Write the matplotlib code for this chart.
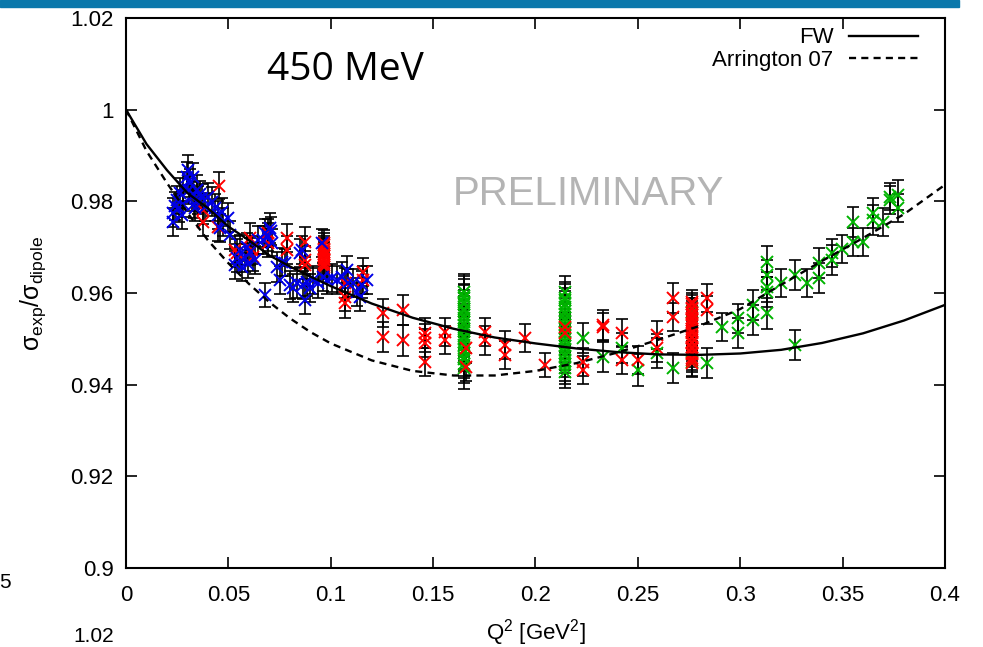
import matplotlib
matplotlib.use("Agg")
import matplotlib.pyplot as plt
from matplotlib.patches import Rectangle

plt.rcParams["font.family"] = ["Liberation Sans", "DejaVu Sans"]
plt.rcParams["mathtext.fontset"] = "custom"
plt.rcParams["mathtext.rm"] = "Liberation Sans"
plt.rcParams["mathtext.it"] = "Liberation Sans"
plt.rcParams["mathtext.default"] = "regular"

# --- model curves ---
curve_q2 = [0.0, 0.01, 0.02, 0.03, 0.04, 0.05, 0.06, 0.07, 0.08, 0.09, 0.10,
            0.12, 0.14, 0.16, 0.18, 0.20, 0.22, 0.24, 0.26, 0.28, 0.30,
            0.32, 0.34, 0.36, 0.38, 0.40]
fw_ratio = [1.0, 0.9925, 0.9868, 0.9818, 0.9785, 0.9745, 0.9715, 0.9682, 0.9658,
            0.9636, 0.9615, 0.9577, 0.9546, 0.9522, 0.9503, 0.9490, 0.9479,
            0.9471, 0.9466, 0.9465, 0.9468, 0.9476, 0.9491, 0.9512, 0.9540, 0.9574]
arr_ratio = [1.0, 0.9910, 0.9840, 0.9775, 0.9715, 0.9665, 0.9620, 0.9580, 0.9545,
             0.9515, 0.9490, 0.9453, 0.9430, 0.9420, 0.9420, 0.9430, 0.9447,
             0.9470, 0.9498, 0.9528, 0.9565, 0.9618, 0.9670, 0.9720, 0.9772, 0.9836]

# --- blue data set ---
blue_q2 = [0.023, 0.023, 0.024, 0.025, 0.0264, 0.026, 0.0273, 0.0278, 0.028, 0.0298,
           0.0303, 0.031, 0.0312, 0.0322, 0.0327, 0.033, 0.0337, 0.0347, 0.0352, 0.036,
           0.0371, 0.0386, 0.040, 0.042, 0.0435, 0.0449, 0.0469, 0.0459, 0.0474, 0.0498,
           0.0508, 0.0532, 0.0542, 0.0557, 0.0567, 0.0581, 0.0591, 0.0596, 0.0606, 0.063,
           0.0645, 0.0679, 0.0679, 0.0694, 0.0703, 0.067, 0.071, 0.0715, 0.0737, 0.0752,
           0.0762, 0.0777, 0.0801, 0.0816, 0.0835, 0.085, 0.086, 0.0864, 0.0874, 0.0884,
           0.0899, 0.0913, 0.0938, 0.0957, 0.0962, 0.0982, 0.1006, 0.103, 0.1055, 0.1079,
           0.1084, 0.1109, 0.1128, 0.1143, 0.1153, 0.1177]
blue_ratio = [0.9775, 0.9755, 0.9790, 0.9803, 0.9818, 0.9785, 0.9770, 0.9831, 0.9795, 0.9853,
              0.9868, 0.9825, 0.9840, 0.9810, 0.9853, 0.9795, 0.9786, 0.9825, 0.9803, 0.9815,
              0.9807, 0.9788, 0.9810, 0.9799, 0.9786, 0.9770, 0.9777, 0.9742, 0.9755, 0.9764,
              0.9727, 0.9661, 0.9676, 0.9694, 0.9657, 0.9676, 0.9700, 0.9663, 0.9690, 0.9672,
              0.9716, 0.9596, 0.9731, 0.9722, 0.9742, 0.9716, 0.9735, 0.9710, 0.9657, 0.9628,
              0.9668, 0.9666, 0.9618, 0.9611, 0.9622, 0.9687, 0.9694, 0.9618, 0.9585, 0.9624,
              0.9611, 0.9628, 0.9622, 0.9709, 0.9635, 0.9628, 0.9633, 0.9628, 0.9635, 0.9650,
              0.9622, 0.9622, 0.9602, 0.9591, 0.9618, 0.9628]
blue_err = [0.0032, 0.0030, 0.0031, 0.0030, 0.0032, 0.0030, 0.0031, 0.0033, 0.0030, 0.0032,
            0.0033, 0.0030, 0.0031, 0.0032, 0.0030, 0.0031, 0.0030, 0.0032, 0.0031, 0.0030,
            0.0031, 0.0030, 0.0031, 0.0032, 0.0030, 0.0031, 0.0030, 0.0031, 0.0030, 0.0032,
            0.0030, 0.0031, 0.0030, 0.0032, 0.0030, 0.0031, 0.0030, 0.0031, 0.0030, 0.0031,
            0.0030, 0.0026, 0.0031, 0.0030, 0.0032, 0.0030, 0.0031, 0.0030, 0.0032, 0.0030,
            0.0031, 0.0030, 0.0031, 0.0030, 0.0032, 0.0031, 0.0030, 0.0031, 0.0030, 0.0031,
            0.0030, 0.0031, 0.0032, 0.0030, 0.0031, 0.0030, 0.0031, 0.0030, 0.0032, 0.0031,
            0.0030, 0.0031, 0.0030, 0.0031, 0.0030, 0.0031]

# --- red data set ---
red_q2 = [0.0376, 0.0376, 0.0449, 0.0454, 0.0532, 0.0542, 0.0606, 0.0615, 0.062, 0.0694,
          0.0694, 0.0786, 0.0786, 0.0874, 0.0874, 0.0874,
          0.0967, 0.0967, 0.0967, 0.0967, 0.0967, 0.0967, 0.0967, 0.0967, 0.0967, 0.0967,
          0.0967, 0.0967,
          0.107, 0.107, 0.107, 0.1158, 0.1158, 0.1255, 0.1255, 0.1353, 0.1353, 0.146,
          0.146, 0.146, 0.146, 0.1558, 0.1558, 0.166, 0.166, 0.1753, 0.1753, 0.1851,
          0.1851, 0.1949, 0.2046, 0.2144, 0.2144, 0.2232, 0.2232, 0.233, 0.233, 0.2422,
          0.2422, 0.25, 0.2593, 0.2593, 0.2671, 0.2671,
          0.2764, 0.2764, 0.2764, 0.2764, 0.2764, 0.2764, 0.2764, 0.2764, 0.2764, 0.2764,
          0.2764, 0.2764, 0.2764, 0.2764, 0.2764, 0.2764, 0.2764, 0.2764, 0.2764, 0.2764,
          0.2764, 0.2764, 0.2764, 0.2764,
          0.2838, 0.2838]
red_ratio = [0.9781, 0.9755, 0.9744, 0.9834, 0.9694, 0.9687, 0.9720, 0.9694, 0.9679, 0.9731,
             0.9709, 0.9720, 0.9694, 0.9711, 0.9672, 0.9661,
             0.9709, 0.9704, 0.9697, 0.9693, 0.9690, 0.9684, 0.9680, 0.9674, 0.9671, 0.9666,
             0.9662, 0.9657,
             0.9622, 0.9591, 0.9578, 0.9646, 0.9628, 0.9556, 0.9504, 0.9563, 0.9497, 0.9513,
             0.9502, 0.9491, 0.9449, 0.9515, 0.9497, 0.9480, 0.9439, 0.9515, 0.9497, 0.9487,
             0.9465, 0.9502, 0.9443, 0.9526, 0.9513, 0.9449, 0.9432, 0.9530, 0.9526, 0.9513,
             0.9454, 0.9454, 0.9508, 0.9480, 0.9589, 0.9548,
             0.9580, 0.9575, 0.9568, 0.9564, 0.9556, 0.9553, 0.9545, 0.9541, 0.9534, 0.9530,
             0.9522, 0.9517, 0.9513, 0.9505, 0.9501, 0.9493, 0.9490, 0.9482, 0.9478, 0.9470,
             0.9466, 0.9458, 0.9454, 0.9447,
             0.9589, 0.9563]
red_err = [0.0030, 0.0031, 0.0030, 0.0030, 0.0031, 0.0030, 0.0032, 0.0030, 0.0031, 0.0030,
           0.0031, 0.0030, 0.0031, 0.0032, 0.0030, 0.0031,
           0.0028, 0.0027, 0.0028, 0.0027, 0.0028, 0.0027, 0.0028, 0.0027, 0.0028, 0.0027,
           0.0028, 0.0027,
           0.0032, 0.0031, 0.0033, 0.0031, 0.0030, 0.0030, 0.0032, 0.0033, 0.0034, 0.0032,
           0.0031, 0.0030, 0.0031, 0.0030, 0.0031, 0.0032, 0.0030, 0.0031, 0.0032, 0.0030,
           0.0031, 0.0030, 0.0026, 0.0030, 0.0031, 0.0031, 0.0030, 0.0032, 0.0031, 0.0030,
           0.0031, 0.0030, 0.0031, 0.0030, 0.0032, 0.0031,
           0.0027, 0.0026, 0.0027, 0.0026, 0.0027, 0.0026, 0.0027, 0.0026, 0.0027, 0.0026,
           0.0027, 0.0026, 0.0027, 0.0026, 0.0027, 0.0026, 0.0027, 0.0026, 0.0027, 0.0026,
           0.0027, 0.0026, 0.0027, 0.0029,
           0.0030, 0.0031]

# --- green data set ---
green_q2 = [0.165, 0.165, 0.165, 0.165, 0.165, 0.165, 0.165, 0.165, 0.165, 0.165,
            0.165, 0.165, 0.165, 0.165, 0.165, 0.165, 0.165, 0.165, 0.165, 0.165,
            0.165, 0.165, 0.165,
            0.2144, 0.2144, 0.2144, 0.2144, 0.2144, 0.2144, 0.2144, 0.2144, 0.2144, 0.2144,
            0.2144, 0.2144, 0.2144, 0.2144, 0.2144, 0.2144, 0.2144, 0.2144, 0.2144, 0.2144,
            0.2144, 0.2144, 0.2144,
            0.2232, 0.233, 0.2422, 0.25, 0.2593, 0.2671, 0.2764, 0.2764, 0.2838, 0.2911,
            0.2989, 0.2989, 0.3062, 0.3062, 0.3131, 0.3131, 0.3131, 0.3131, 0.3131, 0.3199,
            0.3267, 0.3267, 0.3326, 0.3385, 0.3385, 0.3448, 0.3448, 0.3497, 0.3551, 0.3551,
            0.3599, 0.3648, 0.3648, 0.3697, 0.3731, 0.3731, 0.377, 0.377]
green_ratio = [0.9602, 0.9594, 0.9589, 0.9580, 0.9575, 0.9566, 0.9560, 0.9551, 0.9546, 0.9537,
               0.9531, 0.9521, 0.9516, 0.9507, 0.9501, 0.9492, 0.9486, 0.9476, 0.9470, 0.9461,
               0.9455, 0.9446, 0.9436,
               0.9602, 0.9590, 0.9584, 0.9575, 0.9569, 0.9560, 0.9554, 0.9545, 0.9539, 0.9530,
               0.9523, 0.9515, 0.9508, 0.9499, 0.9493, 0.9484, 0.9477, 0.9468, 0.9462, 0.9452,
               0.9445, 0.9436, 0.9428,
               0.9502, 0.9460, 0.9480, 0.9432, 0.9469, 0.9436, 0.9449, 0.9558, 0.9447, 0.9526,
               0.9545, 0.9513, 0.9574, 0.9541, 0.9668, 0.9639, 0.9613, 0.9602, 0.9556, 0.9622,
               0.9487, 0.9639, 0.9622, 0.9666, 0.9633, 0.9687, 0.9672, 0.9696, 0.9755, 0.9711,
               0.9711, 0.9775, 0.9759, 0.9755, 0.9810, 0.9803, 0.9814, 0.9786]
green_err = [0.0040, 0.0042, 0.0041, 0.0040, 0.0042, 0.0041, 0.0040, 0.0042, 0.0041, 0.0040,
             0.0042, 0.0041, 0.0040, 0.0042, 0.0041, 0.0040, 0.0042, 0.0041, 0.0040, 0.0042,
             0.0041, 0.0043, 0.0045,
             0.0036, 0.0035, 0.0036, 0.0035, 0.0036, 0.0035, 0.0036, 0.0035, 0.0036, 0.0035,
             0.0036, 0.0035, 0.0036, 0.0035, 0.0036, 0.0035, 0.0036, 0.0035, 0.0036, 0.0035,
             0.0036, 0.0035, 0.0036,
             0.0032, 0.0033, 0.0032, 0.0034, 0.0033, 0.0032, 0.0033, 0.0031, 0.0032, 0.0030,
             0.0032, 0.0033, 0.0032, 0.0033, 0.0034, 0.0033, 0.0032, 0.0033, 0.0034, 0.0030,
             0.0033, 0.0033, 0.0030, 0.0033, 0.0032, 0.0031, 0.0032, 0.0030, 0.0033, 0.0031,
             0.0030, 0.0033, 0.0032, 0.0031, 0.0030, 0.0031, 0.0032, 0.0031]

x_ticks = [0, 0.05, 0.1, 0.15, 0.2, 0.25, 0.3, 0.35, 0.4]
x_tick_labels = ["0", "0.05", "0.1", "0.15", "0.2", "0.25", "0.3", "0.35", "0.4"]
y_ticks = [0.9, 0.92, 0.94, 0.96, 0.98, 1.0, 1.02]
y_tick_labels = ["0.9", "0.92", "0.94", "0.96", "0.98", "1", "1.02"]

fig = plt.figure(figsize=(9.83, 6.47), dpi=100)
ax = fig.add_axes([0.1282, 0.1221, 0.8331, 0.8501])

# slide header strip at the top of the crop
fig.patches.append(Rectangle((0, 1 - 7 / 647), 959 / 983, 7 / 647,
                             transform=fig.transFigure, color="#0a78ab", zorder=5))

err_style = dict(fmt="none", ecolor="black", elinewidth=1.2, capsize=4, capthick=1.2)
for q, r, e, col in [(green_q2, green_ratio, green_err, "#00b400"),
                     (red_q2, red_ratio, red_err, "#ff0000"),
                     (blue_q2, blue_ratio, blue_err, "#0000e6")]:
    ax.errorbar(q, r, yerr=e, zorder=2, **err_style)
    ax.plot(q, r, "x", color=col, ms=8, mew=1.4, zorder=3, ls="none")

ax.plot(curve_q2, fw_ratio, "-", color="black", lw=1.7, zorder=4, label="FW")
ax.plot(curve_q2, arr_ratio, "--", color="black", lw=1.7, dashes=(3, 2.2),
        zorder=4, label="Arrington 07")

ax.set_xlim(0, 0.4)
ax.set_ylim(0.9, 1.02)
ax.set_xticks(x_ticks)
ax.set_xticklabels(x_tick_labels)
ax.set_yticks(y_ticks)
ax.set_yticklabels(y_tick_labels)
ax.tick_params(direction="in", length=8, width=1.2, top=True, right=True,
               labelsize=16)
ax.tick_params(axis="x", pad=12)
ax.tick_params(axis="y", pad=9)
for s in ax.spines.values():
    s.set_linewidth(1.5)

ax.set_xlabel(r"Q$^2$ [GeV$^2$]", fontsize=16)
ax.set_ylabel(r"$\sigma_{exp}/\sigma_{dipole}$", fontsize=18)
ax.xaxis.set_label_coords(0.5, -0.09)
ax.yaxis.set_label_coords(-0.095, 0.5)

ax.legend(loc="upper right", frameon=False, markerfirst=False, fontsize=16,
          handlelength=3.1, handletextpad=0.7, labelspacing=0.05,
          borderaxespad=0.0, bbox_to_anchor=(0.978, 0.999))

ax.text(0.268, 0.905, "450 MeV", transform=ax.transAxes, fontsize=28,
        family="Open Sans", ha="center", va="center")
ax.text(0.565, 0.68, "PRELIMINARY", transform=ax.transAxes, fontsize=29,
        color="#b4b4b4", ha="center", va="center", zorder=1)

# fragments of neighbouring slide content
fig.text(0.011, 1 - 583 / 647, "5", fontsize=15, ha="right", va="center")
fig.text(0.095, 1 - 637 / 647, "1.02", fontsize=15, ha="center", va="center")

fig.savefig("out.png", dpi=100)
